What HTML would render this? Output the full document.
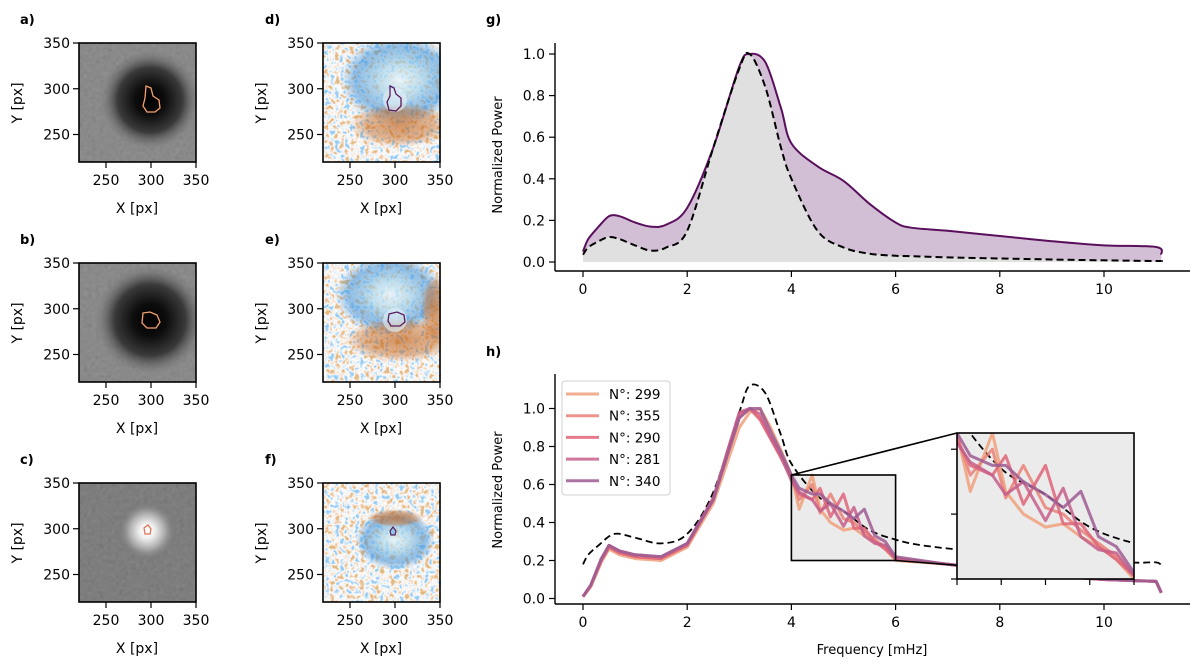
<!DOCTYPE html>
<html><head><meta charset="utf-8"><style>
html,body{margin:0;padding:0;background:#fff;}
svg{display:block;font-family:"DejaVu Sans","Liberation Sans",sans-serif;}
</style></head><body>
<svg id="fig" width="1200" height="666" viewBox="0 0 1200 666" xmlns="http://www.w3.org/2000/svg">
<defs>
<filter id="noise" x="0" y="0" width="100%" height="100%">
<feTurbulence type="fractalNoise" baseFrequency="0.2" numOctaves="2" seed="3"/>
<feColorMatrix type="matrix" values="1 0 0 0 0 1 0 0 0 0 1 0 0 0 0 0 0 0 0 1"/>
<feComponentTransfer>
<feFuncR type="linear" slope="2.2" intercept="-0.6"/>
<feFuncG type="linear" slope="2.2" intercept="-0.6"/>
<feFuncB type="linear" slope="2.2" intercept="-0.6"/>
</feComponentTransfer>
<feComponentTransfer>
<feFuncR type="table" tableValues="0.3 0.55 0.85 0.97 0.95 0.88 0.75"/>
<feFuncG type="table" tableValues="0.6 0.75 0.92 0.97 0.82 0.65 0.48"/>
<feFuncB type="table" tableValues="0.9 0.93 0.96 0.97 0.72 0.45 0.22"/>
<feFuncA type="table" tableValues="1 1"/>
</feComponentTransfer>
</filter>
<filter id="grain" x="0" y="0" width="100%" height="100%">
<feTurbulence type="fractalNoise" baseFrequency="0.25" numOctaves="2" seed="7"/>
<feColorMatrix type="matrix" values="0.33 0.33 0.33 0 0 0.33 0.33 0.33 0 0 0.33 0.33 0.33 0 0 0 0 0 0 0.2"/>
</filter>
<radialGradient id="spot"><stop offset="0" stop-color="#000"/><stop offset="0.3" stop-color="#0d0d0d"/><stop offset="0.65" stop-color="#3a3a3a"/><stop offset="1" stop-color="#7d7d7d" stop-opacity="0"/></radialGradient>
<radialGradient id="bright"><stop offset="0" stop-color="#fff"/><stop offset="0.25" stop-color="#f0f0f0"/><stop offset="0.6" stop-color="#aaa"/><stop offset="1" stop-color="#6e6e6e" stop-opacity="0"/></radialGradient>
<radialGradient id="blueup" cx="0.5" cy="0.5" r="0.5"><stop offset="0" stop-color="#e8f4f8" stop-opacity="0.8"/><stop offset="0.35" stop-color="#a8d4ea" stop-opacity="0.7"/><stop offset="0.75" stop-color="#3d8fd6" stop-opacity="0.55"/><stop offset="1" stop-color="#3d8fd6" stop-opacity="0"/></radialGradient>
<radialGradient id="orange" cx="0.5" cy="0.5" r="0.5"><stop offset="0" stop-color="#c46a26" stop-opacity="0.7"/><stop offset="0.7" stop-color="#c46a26" stop-opacity="0.45"/><stop offset="1" stop-color="#c46a26" stop-opacity="0"/></radialGradient>
<clipPath id="cpA"><rect x="79" y="43" width="117" height="119"/></clipPath>
<clipPath id="cpB"><rect x="79" y="263" width="117" height="119"/></clipPath>
<clipPath id="cpC"><rect x="79" y="483" width="117" height="119"/></clipPath>
<clipPath id="cpD"><rect x="323" y="43" width="118" height="119"/></clipPath>
<clipPath id="cpE"><rect x="323" y="263" width="118" height="119"/></clipPath>
<clipPath id="cpF"><rect x="323" y="483" width="118" height="119"/></clipPath>
<clipPath id="cpIn"><rect x="957" y="433" width="177" height="146"/></clipPath>
</defs>

<g clip-path="url(#cpA)">
<rect x="79" y="43" width="117" height="119" fill="#7d7d7d"/>
<rect x="79" y="43" width="117" height="119" filter="url(#grain)"/>
<circle cx="150" cy="100" r="50" fill="url(#spot)"/>
<path d="M146,86 l5,2 l2,8 l6,4 l1,8 l-5,4 l-8,0 l-4,-6 l2,-8 z" fill="none" stroke="#f4a06c" stroke-width="1.3"/>
</g>
<g clip-path="url(#cpB)">
<rect x="79" y="263" width="117" height="119" fill="#7d7d7d"/>
<rect x="79" y="263" width="117" height="119" filter="url(#grain)"/>
<circle cx="150" cy="320" r="55" fill="url(#spot)"/>
<path d="M143,313 l7,-1 l7,3 l3,7 l-4,6 l-9,0 l-5,-5 z" fill="none" stroke="#f4a06c" stroke-width="1.3"/>
</g>
<g clip-path="url(#cpC)">
<rect x="79" y="483" width="117" height="119" fill="#6e6e6e"/>
<rect x="79" y="483" width="117" height="119" filter="url(#grain)"/>
<circle cx="147" cy="531" r="30" fill="url(#bright)"/>
<path d="M144,528 l4,-3 l3,4 l-1,5 l-5,0 z" fill="none" stroke="#e07050" stroke-width="1.2"/>
</g>
<g clip-path="url(#cpD)">
<rect x="323" y="43" width="118" height="119" filter="url(#noise)"/>
<ellipse cx="400" cy="80" rx="60" ry="45" fill="url(#blueup)"/>
<ellipse cx="400" cy="125" rx="50" ry="22" fill="url(#orange)"/>
<circle cx="395" cy="100" r="12" fill="#e6f2f6" opacity="0.6"/>
<path d="M390,86 l4,2 l2,6 l5,4 l0,8 l-5,5 l-7,-1 l-2,-8 l3,-6 z" fill="none" stroke="#5a1a5e" stroke-width="1.3"/>
</g>
<g clip-path="url(#cpE)">
<rect x="323" y="263" width="118" height="119" filter="url(#noise)"/>
<ellipse cx="390" cy="295" rx="55" ry="40" fill="url(#blueup)"/>
<ellipse cx="400" cy="340" rx="55" ry="22" fill="url(#orange)"/>
<ellipse cx="435" cy="310" rx="14" ry="35" fill="url(#orange)"/>
<circle cx="395" cy="320" r="12" fill="#e6f2f6" opacity="0.6"/>
<path d="M389,314 l8,-2 l7,3 l1,7 l-5,4 l-9,0 l-3,-5 z" fill="none" stroke="#5a1a5e" stroke-width="1.3"/>
</g>
<g clip-path="url(#cpF)">
<rect x="323" y="483" width="118" height="119" filter="url(#noise)"/>
<ellipse cx="395" cy="540" rx="40" ry="30" fill="url(#blueup)"/>
<ellipse cx="395" cy="518" rx="28" ry="9" fill="url(#orange)"/>
<path d="M390,531 l3,-4 l3,4 l-1,4 l-4,0 z" fill="#8cc8e4" stroke="#5a1a5e" stroke-width="1.2"/>
</g>
<g id="imgAxes"></g>
<g id="gPanel"></g>
<g id="hPanel"></g>
</svg>
<script>
// ---- data: panel g ----
const gFreq = [0, 0.1, 0.3, 0.5, 0.7, 1.0, 1.3, 1.6, 2.0, 2.5, 3.0, 3.2, 3.5, 3.8, 4.0, 4.5, 5.0, 5.5, 6.0, 6.3, 7.0, 8.0, 9.0, 10.0, 11.0, 11.1];
const gSolid = [0.05, 0.11, 0.17, 0.22, 0.22, 0.19, 0.17, 0.18, 0.26, 0.55, 0.94, 1.0, 0.96, 0.74, 0.57, 0.46, 0.39, 0.28, 0.19, 0.165, 0.15, 0.125, 0.1, 0.08, 0.072, 0.035];
const gDashed = [0.035, 0.07, 0.1, 0.12, 0.11, 0.08, 0.055, 0.07, 0.15, 0.55, 0.93, 1.0, 0.84, 0.55, 0.4, 0.15, 0.07, 0.04, 0.03, 0.028, 0.022, 0.017, 0.012, 0.008, 0.005, 0.005];
const gYTicks = [0.0, 0.2, 0.4, 0.6, 0.8, 1.0];
const xTicks = [0, 2, 4, 6, 8, 10];
// ---- data: panel h ----
const hFreq = [0, 0.15, 0.35, 0.5, 0.7, 1.0, 1.5, 2.0, 2.5, 2.8, 3.0, 3.2, 3.4, 3.6, 3.8, 4.0, 4.15, 4.4, 4.55, 4.75, 5.0, 5.2, 5.4, 5.6, 5.8, 6.0, 7.0, 8.0, 9.0, 10.0, 11.0, 11.1];
const hLabels = ["N°: 299", "N°: 355", "N°: 290", "N°: 281", "N°: 340"];
const h299 = [0.01, 0.06, 0.19, 0.26, 0.23, 0.21, 0.2, 0.27, 0.5, 0.74, 0.9, 0.98, 1.0, 0.9, 0.78, 0.65, 0.47, 0.65, 0.47, 0.4, 0.36, 0.37, 0.33, 0.3, 0.26, 0.2, 0.18, 0.15, 0.12, 0.1, 0.09, 0.03];
const h355 = [0.01, 0.07, 0.2, 0.27, 0.24, 0.22, 0.21, 0.28, 0.52, 0.78, 0.95, 1.0, 0.95, 0.85, 0.75, 0.64, 0.52, 0.6, 0.45, 0.55, 0.42, 0.4, 0.35, 0.31, 0.27, 0.21, 0.18, 0.15, 0.12, 0.1, 0.09, 0.03];
const h290 = [0.01, 0.07, 0.2, 0.27, 0.24, 0.22, 0.21, 0.28, 0.52, 0.8, 0.97, 1.0, 0.94, 0.84, 0.74, 0.63, 0.55, 0.52, 0.58, 0.43, 0.55, 0.37, 0.37, 0.3, 0.26, 0.21, 0.18, 0.15, 0.12, 0.1, 0.09, 0.03];
const h281 = [0.01, 0.07, 0.2, 0.28, 0.25, 0.23, 0.22, 0.29, 0.53, 0.8, 0.98, 1.0, 0.97, 0.85, 0.75, 0.62, 0.56, 0.52, 0.46, 0.5, 0.38, 0.48, 0.33, 0.29, 0.28, 0.21, 0.18, 0.15, 0.12, 0.1, 0.09, 0.03];
const h340 = [0.01, 0.07, 0.21, 0.28, 0.25, 0.23, 0.22, 0.29, 0.52, 0.78, 0.95, 1.0, 1.0, 0.88, 0.77, 0.65, 0.58, 0.55, 0.55, 0.5, 0.46, 0.42, 0.47, 0.33, 0.3, 0.22, 0.18, 0.15, 0.12, 0.1, 0.09, 0.03];
const hDashedFreq = [0, 0.1, 0.3, 0.6, 1.0, 1.5, 2.0, 2.5, 3.0, 3.2, 3.5, 3.8, 4.0, 4.5, 5.0, 5.5, 6.0, 6.5, 7.5, 9.0, 10.5, 11.0, 11.1];
const hDashed = [0.18, 0.23, 0.28, 0.34, 0.32, 0.29, 0.34, 0.56, 0.98, 1.12, 1.08, 0.86, 0.71, 0.54, 0.46, 0.36, 0.31, 0.28, 0.25, 0.22, 0.19, 0.19, 0.17];
const hYTicks = [0.0, 0.2, 0.4, 0.6, 0.8, 1.0];
const imgTicks = [250, 300, 350];

const hSeries = [h299, h355, h290, h281, h340];
const hColors = ["#f0a07a", "#ea8378", "#df6579", "#c65e89", "#9c5c92"];

const NS = "http://www.w3.org/2000/svg";
function mk(parent, tag, attrs, text) {
  const e = document.createElementNS(NS, tag);
  for (const k in attrs) e.setAttribute(k, attrs[k]);
  if (text !== undefined) e.textContent = text;
  parent.appendChild(e);
  return e;
}
function linePath(xs, ys, sx, sy) {
  return xs.map((x, i) => (i ? "L" : "M") + sx(x).toFixed(1) + "," + sy(ys[i]).toFixed(1)).join("");
}
function smoothPts(xs, ys, sx, sy) {
  const p = xs.map((x, i) => [sx(x), sy(ys[i])]);
  let d = "M" + p[0][0].toFixed(1) + "," + p[0][1].toFixed(1);
  for (let i = 0; i < p.length - 1; i++) {
    const p0 = p[i - 1] || p[i], p1 = p[i], p2 = p[i + 1], p3 = p[i + 2] || p2;
    const c1 = [p1[0] + (p2[0] - p0[0]) / 6, p1[1] + (p2[1] - p0[1]) / 6];
    const c2 = [p2[0] - (p3[0] - p1[0]) / 6, p2[1] - (p3[1] - p1[1]) / 6];
    d += "C" + c1[0].toFixed(1) + "," + c1[1].toFixed(1) + " " + c2[0].toFixed(1) + "," + c2[1].toFixed(1) + " " + p2[0].toFixed(1) + "," + p2[1].toFixed(1);
  }
  return d;
}
const FS = 14;

// ---- image panel axes ----
const ia = document.getElementById("imgAxes");
const panels = [["a)", 79, 43, 20], ["b)", 79, 263, 20], ["c)", 79, 483, 20], ["d)", 323, 43, 265], ["e)", 323, 263, 265], ["f)", 323, 483, 265]];
panels.forEach(([lab, x0, y0, lx]) => {
  const sx = v => x0 + (v - 220) * 117 / 130;
  const sy = v => y0 + (350 - v) * 0.915;
  const fr = mk(ia, "rect", {x: x0, y: y0, width: 117, height: 119, fill: "none", stroke: "#000", "stroke-width": 1.6});
  
  
  const t = mk(ia, "text", {x: lx, y: y0 - 19, "font-size": 13, "font-weight": "bold"}, lab);
  
  
  imgTicks.forEach(v => {
    mk(ia, "line", {x1: sx(v), x2: sx(v), y1: y0 + 119, y2: y0 + 125, stroke: "#000", "stroke-width": 1.2});
    const xt = mk(ia, "text", {x: sx(v), y: y0 + 142, "font-size": FS, "text-anchor": "middle"}, String(v));
    
    
    mk(ia, "line", {x1: x0 - 6, x2: x0, y1: sy(v), y2: sy(v), stroke: "#000", "stroke-width": 1.2});
    const yt = mk(ia, "text", {x: x0 - 9, y: sy(v) + 5, "font-size": FS, "text-anchor": "end"}, String(v));
    
    
  });
  const xl = mk(ia, "text", {x: x0 + 58, y: y0 + 170, "font-size": FS, "text-anchor": "middle"}, "X [px]");
  
  
  const yl = mk(ia, "text", {x: 0, y: 0, "font-size": FS, "text-anchor": "middle", transform: "translate(" + (x0 - 57) + "," + (y0 + 60) + ") rotate(-90)"}, "Y [px]");
  
  
});

// ---- panel g ----
const gp = document.getElementById("gPanel");
const gx = v => 583 + v * 52.1;
const gy = v => 262 - v * 208;
const glab = mk(gp, "text", {x: 486, y: 24, "font-size": 13, "font-weight": "bold"}, "g)");


const solidD = smoothPts(gFreq, gSolid, gx, gy);
const dashD = smoothPts(gFreq, gDashed, gx, gy);
const fillP = mk(gp, "path", {d: solidD + "L" + gx(11.1) + "," + gy(0) + "L" + gx(0) + "," + gy(0) + "Z", fill: "#d3bfd5"});


const grayP = mk(gp, "path", {d: dashD + "L" + gx(11.1) + "," + gy(0) + "L" + gx(0) + "," + gy(0) + "Z", fill: "#e0e0e0"});


const sl = mk(gp, "path", {d: solidD, fill: "none", stroke: "#5a0f5c", "stroke-width": 2});


const dl = mk(gp, "path", {d: dashD, fill: "none", stroke: "#000", "stroke-width": 2, "stroke-dasharray": "7,4"});


mk(gp, "line", {x1: 555, x2: 555, y1: 43, y2: 271, stroke: "#000", "stroke-width": 1.4});
mk(gp, "line", {x1: 555, x2: 1190, y1: 271, y2: 271, stroke: "#000", "stroke-width": 1.4});
gYTicks.forEach(v => {
  mk(gp, "line", {x1: 549, x2: 555, y1: gy(v), y2: gy(v), stroke: "#000", "stroke-width": 1.2});
  const t = mk(gp, "text", {x: 545, y: gy(v) + 5, "font-size": FS, "text-anchor": "end"}, v.toFixed(1));
  
  
});
xTicks.forEach(v => {
  mk(gp, "line", {x1: gx(v), x2: gx(v), y1: 271, y2: 277, stroke: "#000", "stroke-width": 1.2});
  const t = mk(gp, "text", {x: gx(v), y: 294, "font-size": FS, "text-anchor": "middle"}, String(v));
  
  
});
const gyl = mk(gp, "text", {x: 0, y: 0, "font-size": 13, "text-anchor": "middle", transform: "translate(502,155) rotate(-90)"}, "Normalized Power");



// ---- panel h ----
const hp = document.getElementById("hPanel");
const hx = v => 583 + v * 52.1;
const hy = v => 598.5 - v * 190;
const hlab = mk(hp, "text", {x: 486, y: 356, "font-size": 13, "font-weight": "bold"}, "h)");


const bx0 = hx(4), bx1 = hx(6), by0 = hy(0.65), by1 = hy(0.2);
const zb = mk(hp, "rect", {x: bx0, y: by0, width: bx1 - bx0, height: by1 - by0, fill: "#ebebeb"});


const hd = mk(hp, "path", {d: smoothPts(hDashedFreq, hDashed, hx, hy), fill: "none", stroke: "#000", "stroke-width": 1.8, "stroke-dasharray": "7,4"});


hSeries.forEach((s, i) => {
  const p = mk(hp, "path", {d: linePath(hFreq, s, hx, hy), fill: "none", stroke: hColors[i], "stroke-width": 3, "stroke-opacity": 0.85, "stroke-linejoin": "round"});
  
  
});
mk(hp, "rect", {x: bx0, y: by0, width: bx1 - bx0, height: by1 - by0, fill: "none", stroke: "#000", "stroke-width": 1.6});
const ix0 = 957, ix1 = 1134, iy0 = 433, iy1 = 579;
const ixs = v => ix0 + (v - 4) * (ix1 - ix0) / 2;
const iys = v => iy1 - (v - 0.2) * (iy1 - iy0) / 0.45;
mk(hp, "line", {x1: bx0, y1: by0, x2: ix0, y2: iy0, stroke: "#000", "stroke-width": 1.6});
mk(hp, "line", {x1: bx1, y1: by1, x2: ix1, y2: iy1, stroke: "#000", "stroke-width": 1.6});
const inset = mk(hp, "g", {});


mk(inset, "rect", {x: ix0, y: iy0, width: ix1 - ix0, height: iy1 - iy0, fill: "#ebebeb"});
const ic = mk(inset, "g", {"clip-path": "url(#cpIn)"});
mk(ic, "path", {d: smoothPts(hDashedFreq, hDashed, ixs, iys), fill: "none", stroke: "#000", "stroke-width": 1.8, "stroke-dasharray": "7,4"});
hSeries.forEach((s, i) => {
  const p = mk(ic, "path", {d: linePath(hFreq, s, ixs, iys), fill: "none", stroke: hColors[i], "stroke-width": 3, "stroke-opacity": 0.85, "stroke-linejoin": "round"});
  
  
});
mk(inset, "rect", {x: ix0, y: iy0, width: ix1 - ix0, height: iy1 - iy0, fill: "none", stroke: "#000", "stroke-width": 1.6});
[4, 4.5, 5, 5.5, 6].forEach(v => mk(inset, "line", {x1: ixs(v), x2: ixs(v), y1: iy1, y2: iy1 + 6, stroke: "#000", "stroke-width": 1.2}));
[0.2, 0.4, 0.6].forEach(v => mk(inset, "line", {x1: ix0 - 6, x2: ix0, y1: iys(v), y2: iys(v), stroke: "#000", "stroke-width": 1.2}));
mk(hp, "line", {x1: 555, x2: 555, y1: 374, y2: 604, stroke: "#000", "stroke-width": 1.4});
mk(hp, "line", {x1: 555, x2: 1190, y1: 604, y2: 604, stroke: "#000", "stroke-width": 1.4});
hYTicks.forEach(v => {
  mk(hp, "line", {x1: 549, x2: 555, y1: hy(v), y2: hy(v), stroke: "#000", "stroke-width": 1.2});
  const t = mk(hp, "text", {x: 545, y: hy(v) + 5, "font-size": FS, "text-anchor": "end"}, v.toFixed(1));
  
  
});
xTicks.forEach(v => {
  mk(hp, "line", {x1: hx(v), x2: hx(v), y1: 604, y2: 610, stroke: "#000", "stroke-width": 1.2});
  const t = mk(hp, "text", {x: hx(v), y: 627, "font-size": FS, "text-anchor": "middle"}, String(v));
  
  
});
const hxl = mk(hp, "text", {x: 872, y: 654, "font-size": 13, "text-anchor": "middle"}, "Frequency [mHz]");


const hyl = mk(hp, "text", {x: 0, y: 0, "font-size": 13, "text-anchor": "middle", transform: "translate(502,490) rotate(-90)"}, "Normalized Power");


const lg = mk(hp, "g", {});


mk(lg, "rect", {x: 562, y: 381, width: 108, height: 114, rx: 3, fill: "#fff", "fill-opacity": 0.85, stroke: "#d0d0d0"});
hLabels.forEach((lab, i) => {
  const yy = 394 + i * 21.7;
  const e = mk(lg, "g", {});
  
  
  mk(e, "line", {x1: 566, x2: 599, y1: yy, y2: yy, stroke: hColors[i], "stroke-width": 3, "stroke-opacity": 0.85});
  mk(e, "text", {x: 609, y: yy + 5, "font-size": 13.5}, lab);
});
</script>
</body></html>
